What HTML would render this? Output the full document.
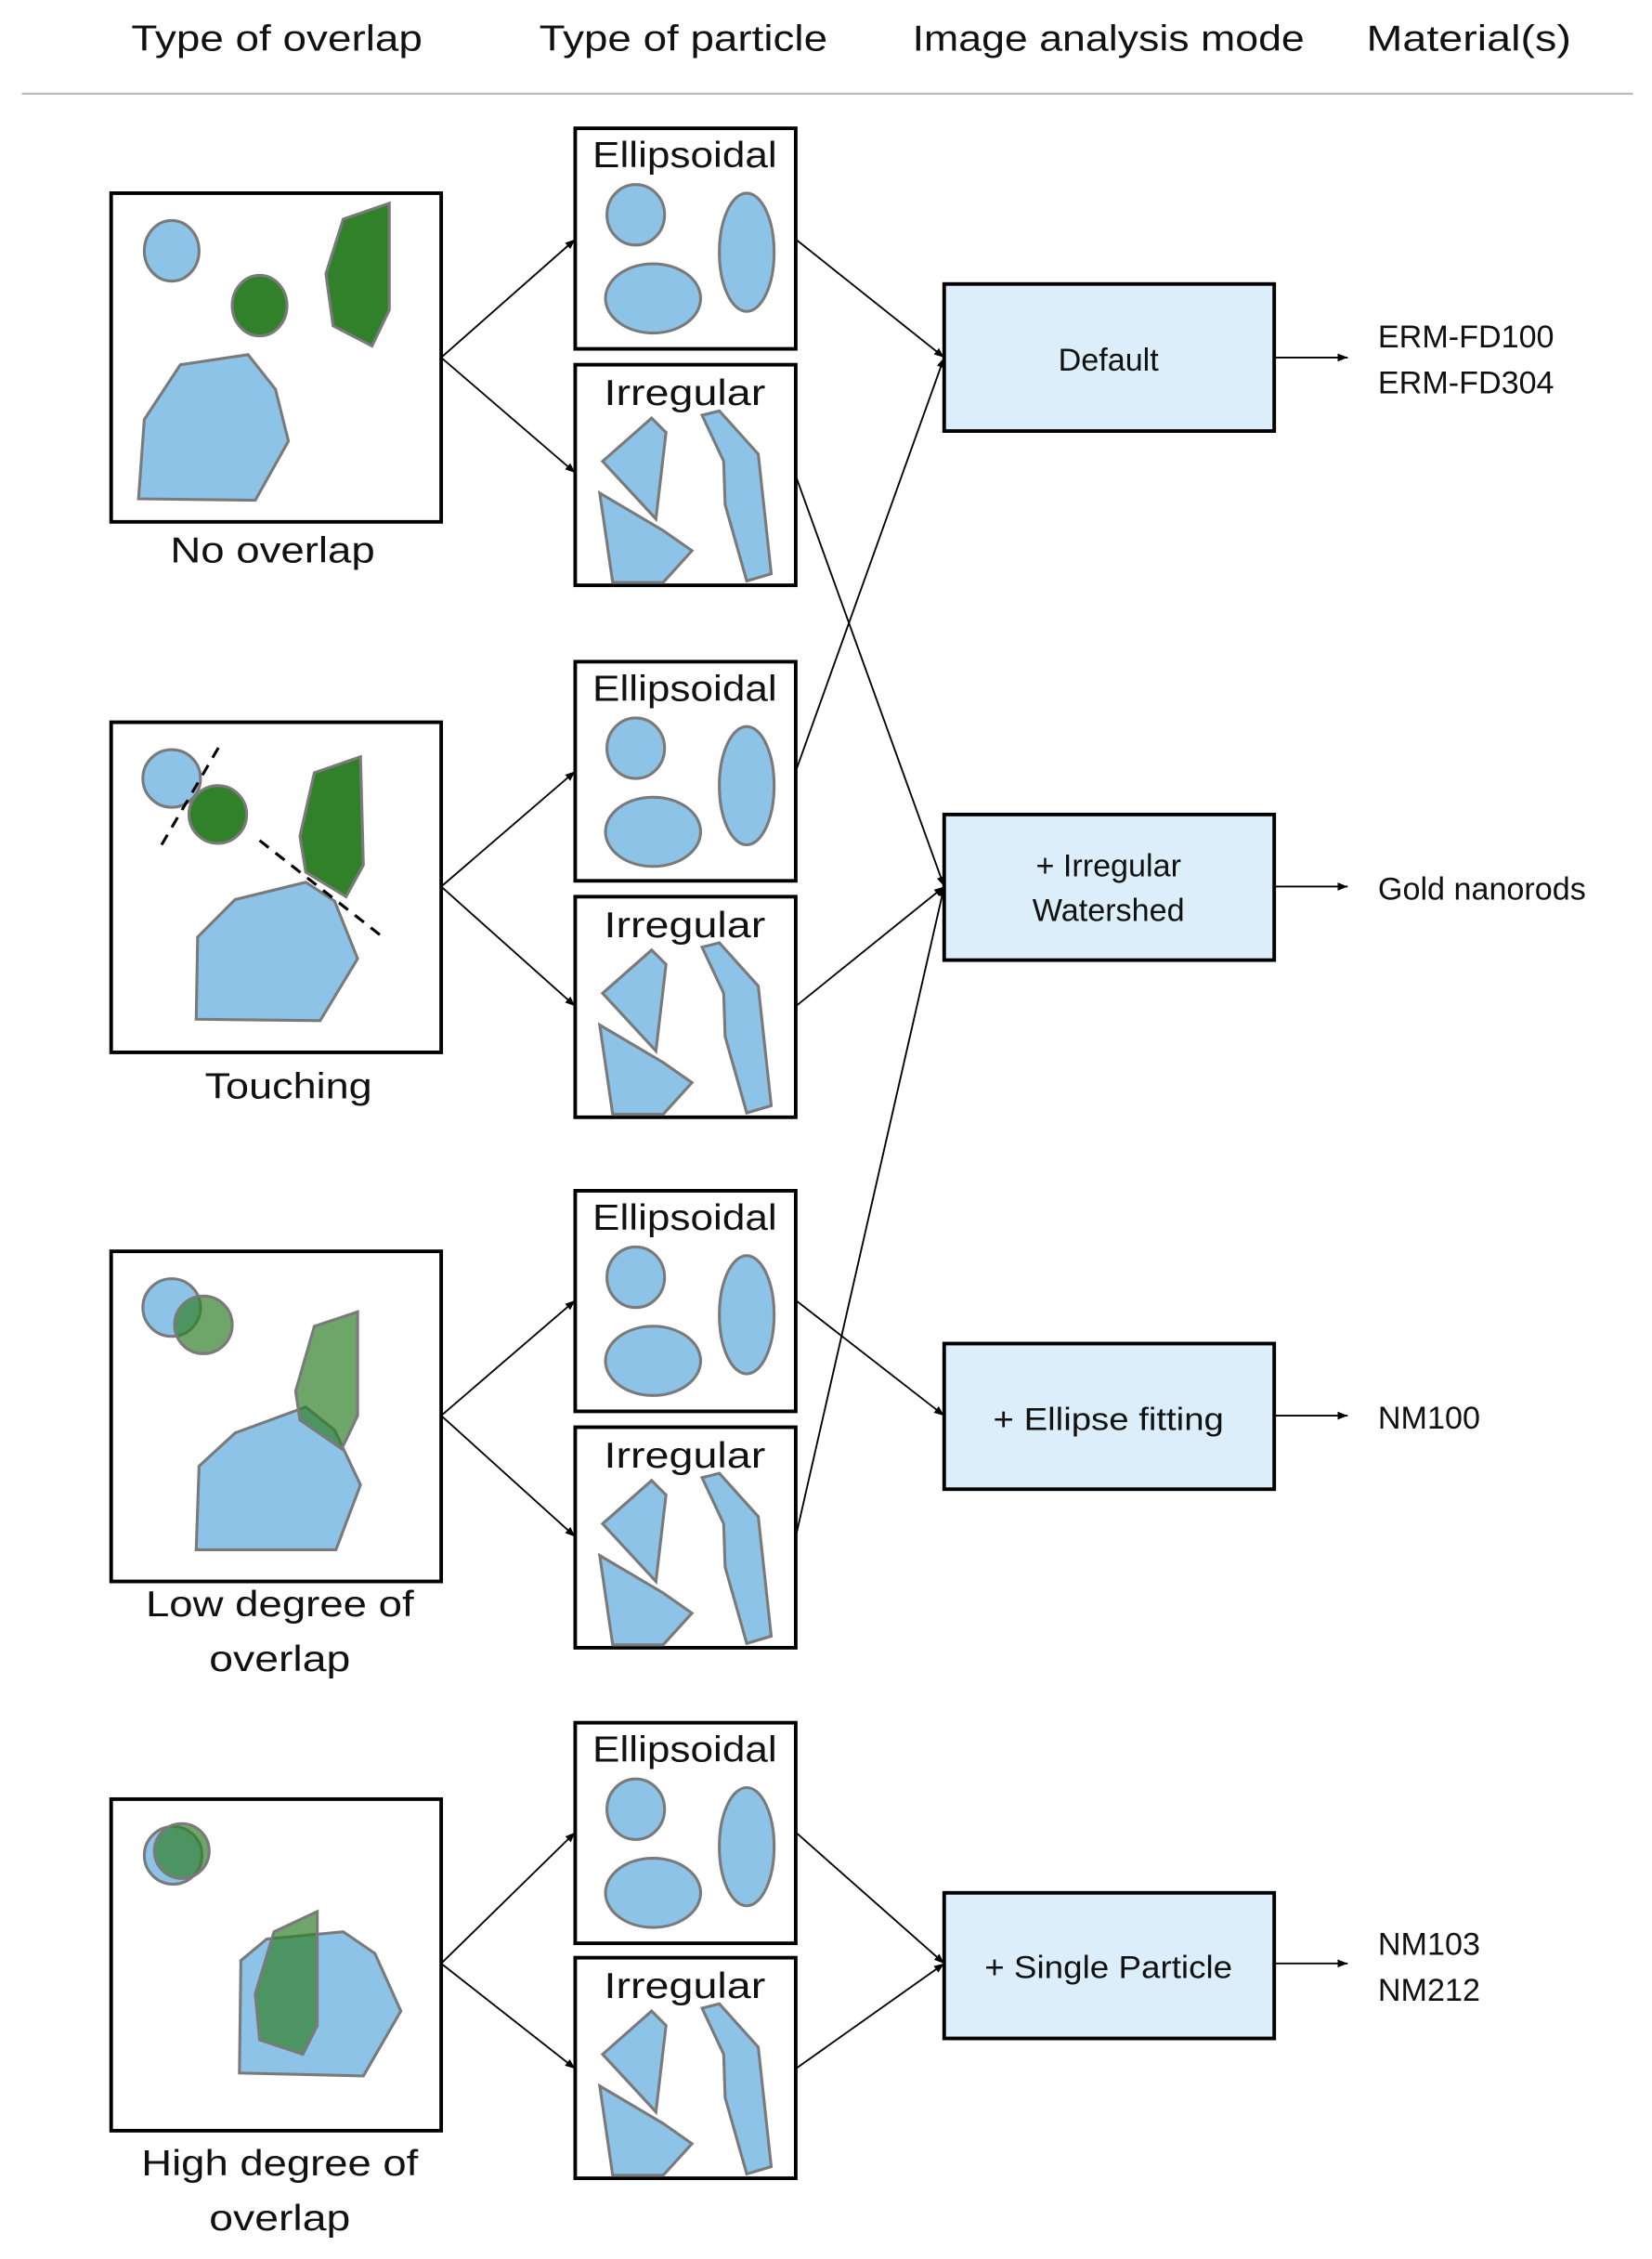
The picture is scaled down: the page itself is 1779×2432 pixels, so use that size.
<!DOCTYPE html>
<html><head><meta charset="utf-8"><style>
html,body{margin:0;padding:0;background:#fff}
svg{display:block}
text{font-family:"Liberation Sans",sans-serif;fill:#111}
</style></head><body>
<svg width="1779" height="2432" viewBox="0 0 1146 1567" xmlns="http://www.w3.org/2000/svg">
<defs>
<marker id="a" viewBox="0 0 10 10" refX="10" refY="5" markerWidth="7" markerHeight="7" orient="auto" markerUnits="userSpaceOnUse"><path d="M0,1 L10,5 L0,9 z" fill="#000"/></marker>
<g id="ell">
<ellipse cx="42" cy="60" rx="20" ry="21" fill="#8cc3e6" stroke="#7a7a7a" stroke-width="2"/>
<ellipse cx="54" cy="118" rx="33" ry="24" fill="#8cc3e6" stroke="#7a7a7a" stroke-width="2"/>
<ellipse cx="119" cy="86" rx="19" ry="41" fill="#8cc3e6" stroke="#7a7a7a" stroke-width="2"/>
<text x="76" y="27" font-size="25" text-anchor="middle" textLength="128" lengthAdjust="spacingAndGlyphs">Ellipsoidal</text>
</g>
<g id="irr">
<polygon points="19,67 53,37 63,47 56,107" fill="#8cc3e6" stroke="#7a7a7a" stroke-width="2"/>
<polygon points="17,89 61,115 81,129 61,151 26,151" fill="#8cc3e6" stroke="#7a7a7a" stroke-width="2"/>
<polygon points="88,35 100,32 127,62 136,145 119,150 104,97 103,67" fill="#8cc3e6" stroke="#7a7a7a" stroke-width="2"/>
<text x="76" y="28" font-size="25" text-anchor="middle" textLength="112" lengthAdjust="spacingAndGlyphs">Irregular</text>
</g>
</defs>
<rect width="1146" height="1567" fill="#fff"/>
<g font-size="25">
<text x="192" y="35" text-anchor="middle" textLength="202" lengthAdjust="spacingAndGlyphs">Type of overlap</text>
<text x="474" y="35" text-anchor="middle" textLength="200" lengthAdjust="spacingAndGlyphs">Type of particle</text>
<text x="769" y="35" text-anchor="middle" textLength="272" lengthAdjust="spacingAndGlyphs">Image analysis mode</text>
<text x="1019" y="35" text-anchor="middle" textLength="142" lengthAdjust="spacingAndGlyphs">Material(s)</text>
</g>
<line x1="15" y1="65" x2="1133" y2="65" stroke="#bbb" stroke-width="1.5"/>

<g stroke="#000" stroke-width="2.5" fill="#fff">
<rect x="77" y="134" width="229" height="228"/>
<rect x="77" y="501" width="229" height="229"/>
<rect x="77" y="868" width="229" height="229"/>
<rect x="77" y="1248" width="229" height="230"/>
</g>
<g stroke="#7a7a7a" stroke-width="2">
<ellipse cx="119" cy="174" rx="19" ry="21" fill="#8cc3e6"/>
<ellipse cx="180" cy="212" rx="19" ry="21" fill="#31802a"/>
<polygon points="226,190 238,152 270,141 270,215 258,240 231,226" fill="#31802a"/>
<polygon points="100,291 125,253 172,246 191,270 200,306 177,347 96,346" fill="#8cc3e6"/>

<circle cx="119" cy="540" r="20" fill="#8cc3e6"/>
<circle cx="151" cy="565" r="20" fill="#31802a"/>
<polygon points="208,580 218,536 250,525 252,600 240,622 212,605" fill="#31802a"/>
<polygon points="137,650 163,624 212,612 232,625 248,665 222,708 136,707" fill="#8cc3e6"/>

<circle cx="119" cy="907" r="20" fill="#8cc3e6"/>
<circle cx="141" cy="919" r="20" fill="#31802a" fill-opacity="0.7"/>
<polygon points="138,1017 163,994 212,976 232,992 250,1030 233,1075 136,1075" fill="#8cc3e6"/>
<polygon points="205,965 218,920 248,910 248,982 237,1005 208,985" fill="#31802a" fill-opacity="0.7"/>

<circle cx="120" cy="1287" r="20" fill="#8cc3e6"/>
<circle cx="126" cy="1284" r="19" fill="#31802a" fill-opacity="0.7"/>
<polygon points="167,1360 185,1345 238,1340 260,1355 278,1395 252,1440 166,1438" fill="#8cc3e6"/>
<polygon points="177,1383 190,1340 220,1326 220,1405 210,1425 180,1415" fill="#31802a" fill-opacity="0.7"/>
</g>
<g stroke="#000" stroke-width="2" stroke-dasharray="8,6">
<line x1="112" y1="586" x2="153" y2="516"/>
<line x1="180" y1="583" x2="268" y2="652"/>
</g>
<g font-size="25" text-anchor="middle">
<text x="189" y="390" textLength="142" lengthAdjust="spacingAndGlyphs">No overlap</text>
<text x="200" y="762" textLength="116" lengthAdjust="spacingAndGlyphs">Touching</text>
<text x="194" y="1121" textLength="186" lengthAdjust="spacingAndGlyphs">Low degree of</text>
<text x="194" y="1159" textLength="98" lengthAdjust="spacingAndGlyphs">overlap</text>
<text x="194" y="1509" textLength="192" lengthAdjust="spacingAndGlyphs">High degree of</text>
<text x="194" y="1547" textLength="98" lengthAdjust="spacingAndGlyphs">overlap</text>
</g>

<g stroke="#000" stroke-width="2.5" fill="#fff">
<rect x="399" y="89" width="153" height="153"/><rect x="399" y="253" width="153" height="153"/>
<rect x="399" y="459" width="153" height="152"/><rect x="399" y="622" width="153" height="153"/>
<rect x="399" y="826" width="153" height="153"/><rect x="399" y="990" width="153" height="153"/>
<rect x="399" y="1195" width="153" height="153"/><rect x="399" y="1358" width="153" height="153"/>
</g>
<use href="#ell" x="399" y="89"/><use href="#irr" x="399" y="253"/>
<use href="#ell" x="399" y="459"/><use href="#irr" x="399" y="622"/>
<use href="#ell" x="399" y="826"/><use href="#irr" x="399" y="990"/>
<use href="#ell" x="399" y="1195"/><use href="#irr" x="399" y="1358"/>

<g stroke="#000" stroke-width="2.5" fill="#dbeef9">
<rect x="655" y="197" width="229" height="102"/>
<rect x="655" y="565" width="229" height="101"/>
<rect x="655" y="932" width="229" height="101"/>
<rect x="655" y="1313" width="229" height="101"/>
</g>
<g font-size="22" text-anchor="middle">
<text x="769" y="257">Default</text>
<text x="769" y="608">+ Irregular</text>
<text x="769" y="639">Watershed</text>
<text x="769" y="992" textLength="160" lengthAdjust="spacingAndGlyphs">+ Ellipse fitting</text>
<text x="769" y="1372" textLength="172" lengthAdjust="spacingAndGlyphs">+ Single Particle</text>
</g>
<g font-size="22">
<text x="956" y="241">ERM-FD100</text>
<text x="956" y="273">ERM-FD304</text>
<text x="956" y="624">Gold nanorods</text>
<text x="956" y="991">NM100</text>
<text x="956" y="1356">NM103</text>
<text x="956" y="1388">NM212</text>
</g>

<g stroke="#000" stroke-width="1.2" marker-end="url(#a)">
<line x1="306" y1="248" x2="399" y2="166"/><line x1="306" y1="248" x2="399" y2="328"/>
<line x1="306" y1="615" x2="399" y2="535"/><line x1="306" y1="615" x2="399" y2="698"/>
<line x1="306" y1="982" x2="399" y2="902"/><line x1="306" y1="982" x2="399" y2="1066"/>
<line x1="306" y1="1362" x2="399" y2="1271"/><line x1="306" y1="1362" x2="399" y2="1435"/>

<line x1="552" y1="166" x2="655" y2="248"/>
<line x1="552" y1="330" x2="655" y2="615"/>
<line x1="552" y1="535" x2="655" y2="248"/>
<line x1="552" y1="698" x2="655" y2="615"/>
<line x1="552" y1="902" x2="655" y2="982"/>
<line x1="552" y1="1066" x2="655" y2="615"/>
<line x1="552" y1="1271" x2="655" y2="1362"/>
<line x1="552" y1="1435" x2="655" y2="1362"/>

<line x1="884" y1="248" x2="935" y2="248"/>
<line x1="884" y1="615" x2="935" y2="615"/>
<line x1="884" y1="982" x2="935" y2="982"/>
<line x1="884" y1="1362" x2="935" y2="1362"/>
</g>
</svg>
</body></html>
